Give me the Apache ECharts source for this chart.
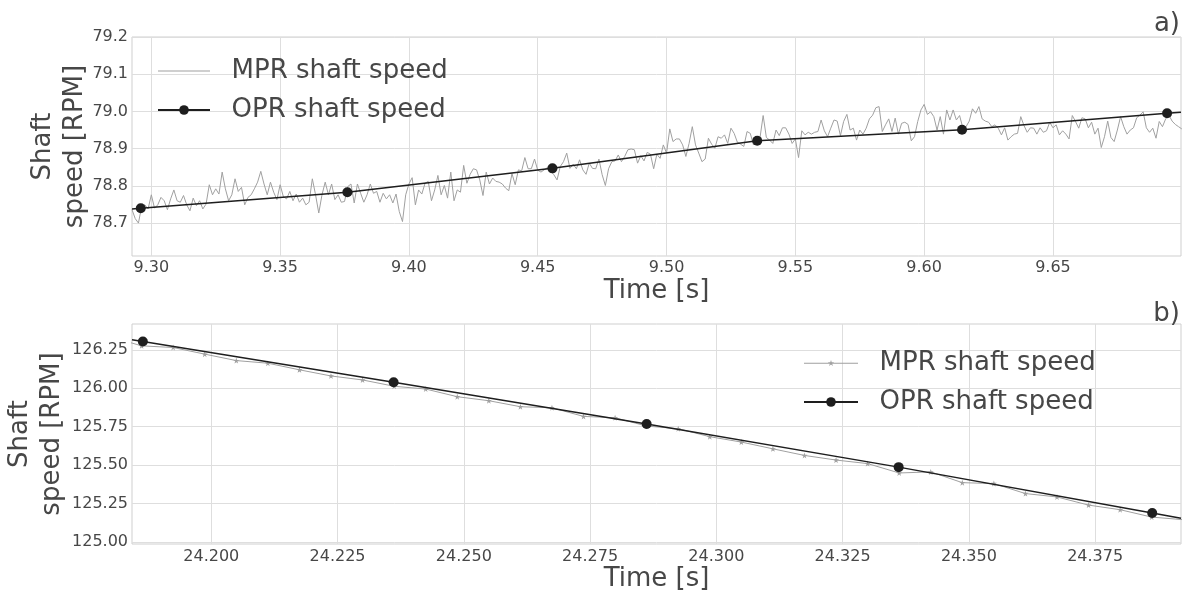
<!DOCTYPE html>
<html><head><meta charset="utf-8">
<script src="https://cdn.jsdelivr.net/npm/echarts@6/dist/echarts.min.js"></script>
<style>html,body{margin:0;padding:0;background:#fff}#c{width:1188px;height:592px}</style>
</head><body><div id="c"></div>
<script>
// ---------- data ----------
// panel a) : MPR samples (regular sampling from start time)
const mprTopStart = 9.2925;
const mprTopStep = 0.00125;
const mprTopValues = [
78.736,78.712,78.700,78.745,78.749,78.738,78.776,78.740,78.749,78.769,
78.760,78.736,78.765,78.789,78.760,78.756,78.774,78.749,78.733,78.767,
78.747,78.760,78.738,78.751,78.803,78.776,78.792,78.778,78.837,78.792,
78.760,78.776,78.819,78.785,78.796,78.749,78.769,78.776,78.792,78.810,
78.839,78.805,78.776,78.810,78.783,78.763,78.803,78.771,78.765,78.785,
78.760,78.778,78.756,78.767,78.749,78.756,78.819,78.776,78.727,78.776,
78.810,78.776,78.805,78.763,78.776,78.756,
78.758,78.798,78.805,78.754,78.805,78.780,78.756,78.776,78.805,78.780,
78.785,78.756,78.780,78.765,78.776,78.754,78.778,78.731,78.704,78.776,
78.805,78.822,78.749,78.789,78.778,78.807,78.812,78.760,78.789,78.828,
78.776,78.801,78.767,78.837,78.760,78.789,78.783,78.855,78.807,78.831,
78.846,78.843,78.816,78.774,78.837,78.805,78.821,78.812,78.810,78.805,
78.794,78.787,78.833,78.803,78.843,78.840,78.876,78.846,78.846,78.872,
78.842,78.837,78.843,78.849,78.840,
78.830,78.816,78.852,78.865,78.888,78.847,78.858,78.846,78.870,78.843,
78.831,78.861,78.847,78.846,78.872,78.830,78.801,78.846,78.865,78.867,
78.883,78.865,78.879,78.897,78.899,78.897,78.861,78.881,78.867,78.890,
78.885,78.846,78.885,78.874,78.910,78.888,78.953,78.919,78.926,78.926,
78.910,78.879,78.914,78.959,78.910,78.888,78.865,78.872,78.928,78.912,
78.901,78.932,78.928,78.937,78.914,78.955,78.941,78.917,78.912,78.906,
78.946,78.941,78.910,78.919,78.928,
78.989,78.930,78.923,78.914,78.950,78.935,78.956,78.956,78.939,78.914,
78.926,78.876,78.948,78.937,78.944,78.939,78.944,78.946,78.977,78.948,
78.932,78.955,78.977,78.974,78.935,78.973,78.992,78.950,78.955,78.923,
78.950,78.939,78.955,78.980,78.990,79.010,79.013,78.946,78.964,78.980,
78.946,78.982,78.939,78.968,78.971,78.965,78.921,78.932,78.973,79.004,
79.019,78.992,78.999,78.986,78.950,78.986,78.939,79.004,78.977,79.004,
78.977,78.989,78.956,78.959,78.974,
79.007,78.995,79.013,78.980,78.974,78.971,78.959,78.964,78.955,78.937,
78.956,78.923,78.932,78.939,78.941,78.986,78.962,78.944,78.956,78.955,
78.939,78.956,78.944,78.948,78.971,78.956,78.964,78.937,78.948,78.939,
78.926,78.989,78.973,78.955,78.983,78.980,78.956,78.971,78.939,78.955,
78.903,78.932,78.974,78.930,78.919,78.950,78.986,78.959,78.939,78.950,
78.956,78.983,78.990,78.999,78.956,78.944,78.955,78.928,78.973,78.959,
78.980,78.990,78.974,78.965,78.959,78.953
];
// panel a) : OPR line (first/last entries are the line ends at the plot edges, no marker)
const oprTopTimes  = [9.2925, 9.2959, 9.3761, 9.4557, 9.5352, 9.6147, 9.6943, 9.6997];
const oprTopValues = [78.738, 78.740, 78.783, 78.847, 78.921, 78.951, 78.995, 78.998];

// panel b) : MPR samples
const mprBotStart = 24.17995;
const mprBotStep = 0.00625;
const mprBotValues = [
126.335,126.276,126.265,126.222,126.180,126.163,126.120,126.080,126.054,126.013,
125.995,125.945,125.919,125.880,125.873,125.817,125.808,125.754,125.737,125.685,
125.650,125.606,125.563,125.533,125.510,125.449,125.456,125.386,125.380,125.315,
125.293,125.240,125.210,125.162,125.145
];
const oprBotTimes  = [24.1843, 24.18645, 24.2361, 24.2862, 24.3361, 24.3863, 24.3920];
const oprBotValues = [126.315, 126.304, 126.039, 125.768, 125.487, 125.189, 125.155];

// tick labels
const xTopTicks = [9.30, 9.35, 9.40, 9.45, 9.50, 9.55, 9.60, 9.65];
const yTopTicks = [78.7, 78.8, 78.9, 79.0, 79.1, 79.2];
const xBotTicks = [24.200, 24.225, 24.250, 24.275, 24.300, 24.325, 24.350, 24.375];
const yBotTicks = [125.00, 125.25, 125.50, 125.75, 126.00, 126.25];

const legendNames = {'MPR-a':'MPR shaft speed','OPR-a':'OPR shaft speed','MPR-b':'MPR shaft speed','OPR-b':'OPR shaft speed'};

// ---------- styling ----------
const FONT = 'DejaVu Sans';
const TXT = '#474747';
const GRID = '#dedede';
const MPR_C = '#a0a0a0';
const OPR_C = '#1e1e1e';
const STAR = 'path://M50,0 L61.8,35.1 L98.9,35.1 L68.8,56.8 L80.3,91.9 L50,70.2 L19.7,91.9 L31.2,56.8 L1.1,35.1 L38.2,35.1 Z';

function xAx(gi, min, max, ticks, dec, gap, margin) {
  return {
    type: 'value', gridIndex: gi, min: min, max: max,
    axisLine: {show: false},
    axisTick: {show: false, customValues: ticks},
    axisLabel: {customValues: ticks, formatter: v => Number(v).toFixed(dec), fontSize: 16, color: TXT, fontFamily: FONT, margin: margin},
    splitLine: {show: true, lineStyle: {color: GRID, width: 1}},
    name: 'Time [s]', nameLocation: 'middle', nameGap: gap, nameMoveOverlap: false,
    nameTextStyle: {fontSize: 26, color: TXT, fontFamily: FONT}
  };
}
function yAx(gi, min, max, ticks, dec, gap) {
  return {
    type: 'value', gridIndex: gi, min: min, max: max,
    axisLine: {show: false},
    axisTick: {show: false, customValues: ticks},
    axisLabel: {customValues: ticks, formatter: v => Number(v).toFixed(dec), fontSize: 16, color: TXT, fontFamily: FONT, margin: 4},
    splitLine: {show: true, lineStyle: {color: GRID, width: 1}},
    name: 'Shaft\nspeed [RPM]', nameLocation: 'middle', nameRotate: 90, nameGap: gap, nameMoveOverlap: false,
    nameTextStyle: {fontSize: 26, color: TXT, fontFamily: FONT, lineHeight: 32, align: 'center'}
  };
}

const mprTopData = mprTopValues.map((v, i) => [mprTopStart + i * mprTopStep, v]);
const oprTopData = oprTopTimes.map((t, i) => ({value: [t, oprTopValues[i]], symbol: (i === 0 || i === oprTopTimes.length - 1) ? 'none' : 'circle'}));
const mprBotData = mprBotValues.map((v, i) => [mprBotStart + i * mprBotStep, v]);
const oprBotData = oprBotTimes.map((t, i) => ({value: [t, oprBotValues[i]], symbol: (i === 0 || i === oprBotTimes.length - 1) ? 'none' : 'circle'}));

const lineIcon = 'path://M0,5.4 L52,5.4 L52,6.6 L0,6.6 Z';
const starIcon = 'path://M0,5.45 L54,5.45 L54,6.55 L0,6.55 Z M27,2.8 L27.76,4.95 L30.04,5.01 L28.24,6.40 L28.88,8.59 L27,7.3 L25.12,8.59 L25.76,6.40 L23.96,5.01 L26.24,4.95 Z';

const chart = echarts.init(document.getElementById('c'), null, {renderer: 'canvas'});
chart.setOption({
  animation: false,
  backgroundColor: '#ffffff',
  textStyle: {fontFamily: FONT},
  title: [
    {text: 'a)', right: 3, top: 6, padding: 5, textStyle: {fontSize: 26, fontWeight: 'normal', color: TXT, fontFamily: FONT}},
    {text: 'b)', right: 3, top: 296, padding: 5, textStyle: {fontSize: 26, fontWeight: 'normal', color: TXT, fontFamily: FONT}}
  ],
  grid: [
    {left: 132, right: 7, top: 37, height: 219, show: true, borderColor: '#cfcfcf', borderWidth: 1, backgroundColor: '#fff', outerBoundsMode: 'none', containLabel: false},
    {left: 132, right: 7, top: 324, height: 220, show: true, borderColor: '#cfcfcf', borderWidth: 1, backgroundColor: '#fff', outerBoundsMode: 'none', containLabel: false}
  ],
  xAxis: [
    xAx(0, 9.2925, 9.6997, xTopTicks, 2, 22, 4),
    xAx(1, 24.1843, 24.3920, xBotTicks, 3, 22, 5)
  ],
  yAxis: [
    yAx(0, 78.6115, 79.2, yTopTicks, 1, 41),
    yAx(1, 124.987, 126.418, yBotTicks, 2, 64)
  ],
  legend: [
    {
      data: [{name: 'MPR-a', icon: lineIcon}, 'OPR-a'],
      orient: 'vertical', left: 157, top: 56, padding: 0,
      itemWidth: 52, itemHeight: 12, itemGap: 9,
      itemStyle: {borderWidth: 0},
      formatter: n => '  ' + legendNames[n],
      textStyle: {fontSize: 26, color: TXT, fontFamily: FONT, lineHeight: 30},
      selectedMode: false
    },
    {
      data: [{name: 'MPR-b', icon: starIcon}, 'OPR-b'],
      orient: 'vertical', left: 803, top: 348, padding: 0,
      itemWidth: 54, itemHeight: 12, itemGap: 9,
      itemStyle: {borderWidth: 0},
      formatter: n => '  ' + legendNames[n],
      textStyle: {fontSize: 26, color: TXT, fontFamily: FONT, lineHeight: 30},
      selectedMode: false
    }
  ],
  series: [
    {name: 'MPR-a', type: 'line', xAxisIndex: 0, yAxisIndex: 0, data: mprTopData, symbol: 'none',
     lineStyle: {color: MPR_C, width: 1}, itemStyle: {color: MPR_C}, z: 2},
    {name: 'OPR-a', type: 'line', xAxisIndex: 0, yAxisIndex: 0, data: oprTopData, symbol: 'circle', symbolSize: 10, showAllSymbol: true,
     lineStyle: {color: OPR_C, width: 1.5}, itemStyle: {color: OPR_C}, z: 3},
    {name: 'MPR-b', type: 'line', xAxisIndex: 1, yAxisIndex: 1, data: mprBotData, symbol: STAR, symbolSize: 6, showAllSymbol: true,
     lineStyle: {color: MPR_C, width: 1}, itemStyle: {color: MPR_C}, z: 2},
    {name: 'OPR-b', type: 'line', xAxisIndex: 1, yAxisIndex: 1, data: oprBotData, symbol: 'circle', symbolSize: 10, showAllSymbol: true,
     lineStyle: {color: OPR_C, width: 1.5}, itemStyle: {color: OPR_C}, z: 3}
  ]
});
</script>
</body></html>
